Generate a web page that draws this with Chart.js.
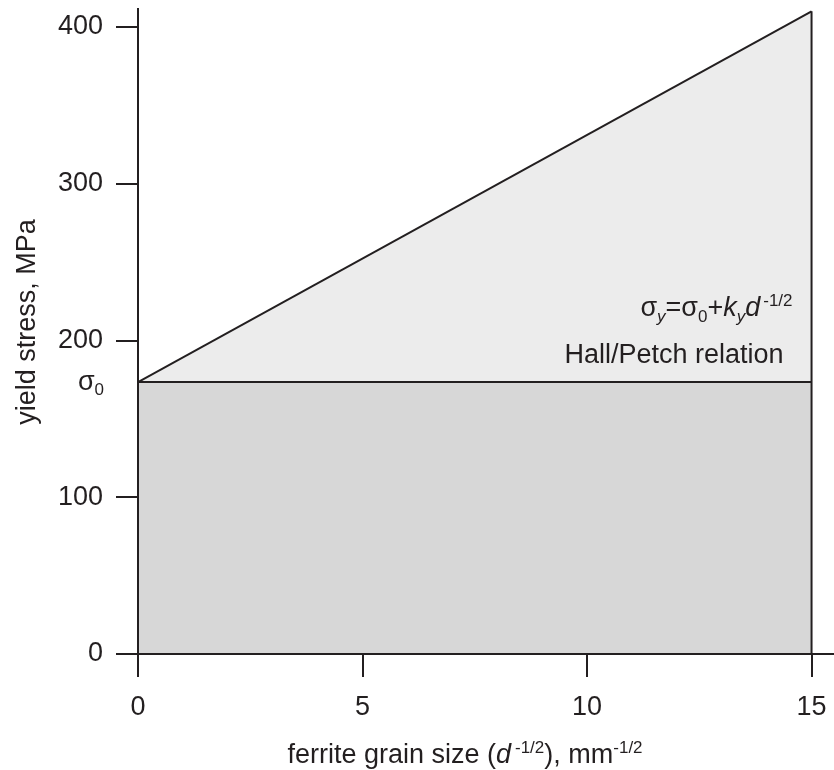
<!DOCTYPE html>
<html>
<head>
<meta charset="utf-8">
<title>Hall/Petch relation</title>
<script src="https://cdn.jsdelivr.net/npm/chart.js@4.4.1/dist/chart.umd.min.js"></script>
<style>
  html, body { margin: 0; padding: 0; background: #fff; }
  #wrap { width: 834px; height: 770px; position: relative; }
</style>
</head>
<body>
<div id="wrap"><canvas id="hallPetch"></canvas></div>
<script>
// Values
const grainSize = [0, 15];              // d^-1/2, mm^-1/2
const frictionStress = [173.5, 173.5];  // sigma_0, MPa
const yieldStress = [173.5, 410];       // sigma_y = sigma_0 + k_y d^-1/2, MPa
const xTicks = [0, 5, 10, 15];
const yTicks = [0, 100, 200, 300, 400];
const xLimits = [0, 15.5];
const yLimits = [0, 411.5];

const INK = "#231f20";
const FONT = "'Liberation Sans', Arial, sans-serif";

// build a {x,y} series from two arrays
function pts(xs, ys) {
    return xs.map((x, i) => ({ x: x, y: ys[i] }));
}

// draw a run of text pieces (sub/superscripts, italics) one after another
function drawRich(ctx, parts, x, y, align) {
    let total = 0;
    parts.forEach(p => {
        ctx.font = (p.italic ? "italic " : "") + (p.size || 27) + "px " + FONT;
        p.w = ctx.measureText(p.t).width + (p.gap || 0);
        total += p.w;
    });
    let cx = align === "right" ? x - total : align === "center" ? x - total / 2 : x;
    parts.forEach(p => {
        ctx.font = (p.italic ? "italic " : "") + (p.size || 27) + "px " + FONT;
        ctx.fillText(p.t, cx, y + (p.dy || 0));
        cx += p.w;
    });
}

const textPlugin = {
    id: "labels",
    afterDraw(chart) {
        const ctx = chart.ctx;
        const xs = chart.scales.x, ys = chart.scales.y;
        const x15 = xs.getPixelForValue(grainSize[1]);
        const yS0 = ys.getPixelForValue(frictionStress[0]);
        ctx.save();
        ctx.fillStyle = INK;
        ctx.textAlign = "left";
        ctx.textBaseline = "alphabetic";

        // equation
        drawRich(ctx, [
            { t: "σ" },
            { t: "y", size: 17, italic: true, dy: 6 },
            { t: "=σ" },
            { t: "0", size: 17, dy: 6 },
            { t: "+" },
            { t: "k", italic: true },
            { t: "y", size: 17, italic: true, dy: 6 },
            { t: "d", italic: true, gap: 3 },
            { t: "-1/2", size: 17, dy: -10 }
        ], x15 - 19, yS0 - 66, "right");

        drawRich(ctx, [{ t: "Hall/Petch relation" }], x15 - 28, yS0 - 19, "right");

        // sigma_0 marker on the y axis
        drawRich(ctx, [
            { t: "σ" },
            { t: "0", size: 17, dy: 5 }
        ], chart.chartArea.left - 34, yS0 + 8, "right");

        // x axis title
        drawRich(ctx, [
            { t: "ferrite grain size (" },
            { t: "d", italic: true, gap: 4 },
            { t: "-1/2", size: 17, dy: -10 },
            { t: "), mm" },
            { t: "-1/2", size: 17, dy: -10 }
        ], 465, 763, "center");

        // y axis title
        ctx.translate(35, 322);
        ctx.rotate(-Math.PI / 2);
        ctx.textAlign = "center";
        ctx.font = "27px " + FONT;
        ctx.fillText("yield stress, MPa", 0, 0);
        ctx.restore();
    }
};

const ctx = document.getElementById("hallPetch").getContext("2d");

new Chart(ctx, {
    type: "line",
    data: {
        datasets: [
            {
                // sigma_0 level, grey block down to zero
                data: pts(grainSize, frictionStress),
                borderColor: INK,
                borderWidth: 2,
                backgroundColor: "#d7d7d7",
                fill: "origin",
                pointRadius: 0
            },
            {
                // grain boundary strengthening wedge
                data: pts(grainSize, yieldStress),
                borderColor: INK,
                borderWidth: 2,
                backgroundColor: "#ececec",
                fill: "-1",
                pointRadius: 0
            },
            {
                // closing edge at the largest grain size value
                data: pts([grainSize[1], grainSize[1]], [0, yieldStress[1]]),
                borderColor: INK,
                borderWidth: 2,
                fill: false,
                pointRadius: 0
            }
        ]
    },
    options: {
        responsive: true,
        maintainAspectRatio: false,
        animation: false,
        layout: { padding: { top: 9, right: 0, left: 0, bottom: 0 } },
        plugins: {
            legend: { display: false },
            tooltip: { enabled: false },
            filler: { drawTime: "beforeDatasetsDraw" }
        },
        scales: {
            x: {
                type: "linear",
                min: xLimits[0],
                max: xLimits[1],
                afterBuildTicks: s => { s.ticks = xTicks.map(v => ({ value: v })); },
                afterFit: s => {
                    s.height = 116;
                    s.paddingLeft = 0;
                    s.paddingRight = 0;
                },
                ticks: {
                    color: INK,
                    font: { family: FONT, size: 27 },
                    padding: 14,
                    maxRotation: 0
                },
                grid: {
                    drawOnChartArea: false,
                    drawTicks: true,
                    tickLength: 23,
                    color: INK,
                    lineWidth: 2,
                    z: 1
                },
                border: { display: true, color: INK, width: 2, z: 1 }
            },
            y: {
                type: "linear",
                min: yLimits[0],
                max: yLimits[1],
                afterBuildTicks: s => { s.ticks = yTicks.map(v => ({ value: v })); },
                afterFit: s => {
                    s.width = 138;
                    s.paddingTop = 0;
                    s.paddingBottom = 0;
                },
                ticks: {
                    color: INK,
                    font: { family: FONT, size: 27 },
                    padding: 13
                },
                grid: {
                    drawOnChartArea: false,
                    drawTicks: true,
                    tickLength: 22,
                    color: INK,
                    lineWidth: 2,
                    z: 1
                },
                border: { display: true, color: INK, width: 2, z: 1 }
            }
        }
    },
    plugins: [textPlugin]
});
</script>
</body>
</html>
